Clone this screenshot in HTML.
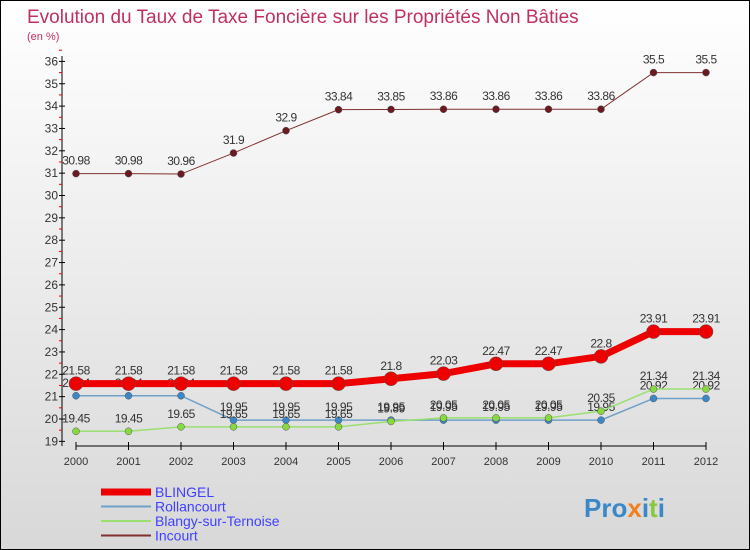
<!DOCTYPE html>
<html><head><meta charset="utf-8"><style>
body{margin:0}
#c{position:relative;width:748px;height:548px;border:1px solid #000;background:linear-gradient(#fff,#d8d8d8);font-family:"Liberation Sans",sans-serif;overflow:hidden}
</style></head><body>
<div id="c">
<svg id="s" width="748" height="548" xmlns="http://www.w3.org/2000/svg">
<text x="26" y="22" font-size="19" fill="#c03060">Evolution du Taux de Taxe Foncière sur les Propriétés Non Bâties</text>
<text x="26" y="39" font-size="11" fill="#c03060">(en %)</text>
<g id="g"></g>
<text x="583" y="516" font-size="26" font-weight="bold"><tspan fill="#3a88c8">Pro</tspan><tspan fill="#f08020">x</tspan><tspan fill="#3a88c8">i</tspan><tspan fill="#88c840">t</tspan><tspan fill="#3a88c8">i</tspan></text>
</svg>
</div>
<script>
const years=[2000,2001,2002,2003,2004,2005,2006,2007,2008,2009,2010,2011,2012];
const blingel=[21.58,21.58,21.58,21.58,21.58,21.58,21.8,22.03,22.47,22.47,22.8,23.91,23.91];
const rollancourt=[21.04,21.04,21.04,19.95,19.95,19.95,19.95,19.95,19.95,19.95,19.95,20.92,20.92];
const blangy=[19.45,19.45,19.65,19.65,19.65,19.65,19.89,20.05,20.05,20.05,20.35,21.34,21.34];
const incourt=[30.98,30.98,30.96,31.9,32.9,33.84,33.85,33.86,33.86,33.86,33.86,35.5,35.5];
const yTicks=[19,20,21,22,23,24,25,26,27,28,29,30,31,32,33,34,35,36];
const NS="http://www.w3.org/2000/svg";
const g=document.getElementById('g');
const X=i=>75+i*52.5;
const Y=v=>418-(v-20)*22.35;
function el(t,a){const e=document.createElementNS(NS,t);for(const k in a)e.setAttribute(k,a[k]);g.appendChild(e);return e;}
let ax=el('line',{x1:61,y1:55,x2:61,y2:445,stroke:'#000'});


let bx=el('line',{x1:75,y1:445,x2:705,y2:445,stroke:'#000'});


yTicks.forEach(v=>{
 el('line',{x1:58,x2:64,y1:Y(v),y2:Y(v),stroke:'#000'});
 el('line',{x1:58,x2:61,y1:Y(v+0.5),y2:Y(v+0.5),stroke:'#e00'});
 const t=el('text',{x:57,y:Y(v)+4,'font-size':12,'text-anchor':'end',fill:'#333'});t.textContent=v;
 
 
});
years.forEach((y,i)=>{
 el('line',{x1:X(i),x2:X(i),y1:441,y2:449,stroke:'#000'});
 const t=el('text',{x:X(i),y:464,'font-size':11,'text-anchor':'middle',fill:'#333'});t.textContent=y;
 
 
});
function series(d,col,w,r,dot,name){
 const p=el('polyline',{points:d.map((v,i)=>X(i)+','+Y(v)).join(' '),fill:'none',stroke:col,'stroke-width':w});
 
 
 d.forEach((v,i)=>{
  const c=el('circle',{cx:X(i),cy:Y(v),r:r,fill:dot,stroke:'#555','stroke-width':0.5});
  
  
  const t=el('text',{x:X(i),y:Y(v)-9,'font-size':12,'text-anchor':'middle',fill:'#333','letter-spacing':'-0.5'});t.textContent=v;
  
  
 });
}
series(incourt,'#803030',1,3.5,'#6a1a20','incourt');
series(rollancourt,'#6fa0c8',1.5,3.5,'#3a88c8','rollancourt');
series(blangy,'#99e070',1.5,3.5,'#88d840','blangy');
series(blingel,'#ee0000',7,7,'#ee0000','blingel');
const names=['BLINGEL','Rollancourt','Blangy-sur-Ternoise','Incourt'];
const cols=['#ee0000','#6fa0c8','#99e070','#803030'];
const ws=[7,2,2,2];
names.forEach((n,i)=>{
 const yy=491+i*14.5;
 const l=el('line',{x1:100,x2:150,y1:yy,y2:yy,stroke:cols[i],'stroke-width':ws[i]});
 
 
 const t=el('text',{x:154,y:yy+5,'font-size':14,fill:'#4040ff'});t.textContent=n;
 
 
});
</script>
</body></html>
